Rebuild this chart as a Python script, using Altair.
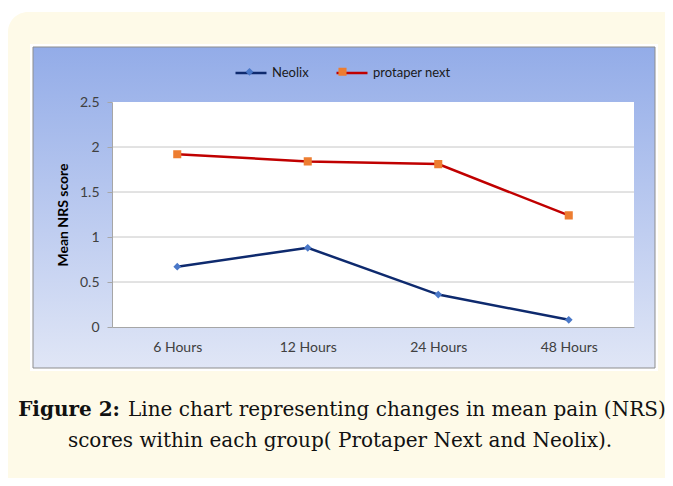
import altair as alt
import pandas as pd

times = ["6 Hours", "12 Hours", "24 Hours", "48 Hours"]
series_names = ["Neolix", "protaper next"]
neolix = [0.67, 0.88, 0.36, 0.08]
protaper = [1.92, 1.84, 1.81, 1.24]
y_ticks = [0, 0.5, 1, 1.5, 2, 2.5]
grid_vals = [0.5, 1, 1.5, 2]
caption_bold = "Figure 2:"
caption_rest1 = "Line chart representing changes in mean pain (NRS)"
caption_line2 = "scores within each group( Protaper Next and Neolix)."

line_colors = ["#0e2a6e", "#c00000"]
marker_colors = ["#4a78c8", "#ed7d31"]

rows = []
for t, v in zip(times, neolix):
    rows.append({"time": t, "value": v, "series": series_names[0]})
for t, v in zip(times, protaper):
    rows.append({"time": t, "value": v, "series": series_names[1]})
df = pd.DataFrame(rows)

W, H = 522, 225
LX, LY = 122, -46

one = alt.Data(values=[{}])

cream = alt.Chart(one).mark_rect(color="#fefae8", cornerRadius=20).encode(
    x=alt.value(-104), x2=alt.value(600), y=alt.value(-90), y2=alt.value(420))

frame_white = alt.Chart(one).mark_rect(color="white").encode(
    x=alt.value(-82), x2=alt.value(546), y=alt.value(-58), y2=alt.value(269))

grad = alt.Chart(one).mark_rect(
    color=alt.Gradient(gradient="linear", x1=0, y1=0, x2=0, y2=1,
                       stops=[alt.GradientStop(offset=0, color="#93ace8"),
                              alt.GradientStop(offset=1, color="#e0e6f6")]),
    stroke="#8d8d8d", strokeWidth=1).encode(
    x=alt.value(-79), x2=alt.value(543), y=alt.value(-55), y2=alt.value(266))

plot_bg = alt.Chart(one).mark_rect(color="white").encode(
    x=alt.value(0), x2=alt.value(W), y=alt.value(0), y2=alt.value(H))

ydom = alt.Scale(domain=[0, 2.5], nice=False)


def yaxis():
    return alt.Axis(title="Mean NRS score", values=y_ticks, grid=False,
                    format="~g",
                    domainColor="#a6a6a6", tickColor="#a6a6a6", tickSize=5,
                    labelFont="Lato", labelFontSize=14, labelColor="#404040",
                    labelPadding=8, titleFont="Lato", titleFontSize=14,
                    titleFontWeight="bold", titleColor="#000000",
                    titlePadding=9, zindex=1)


xaxis = alt.Axis(title=None, labelAngle=0, ticks=False, grid=False,
                 domainColor="#a6a6a6", labelFont="Lato", labelFontSize=14,
                 labelColor="#404040", labelPadding=13, zindex=1)

grid = alt.Chart(pd.DataFrame({"value": grid_vals})).mark_rule(
    color="#c6c6c6", strokeWidth=1).encode(
    y=alt.Y("value:Q", scale=ydom, axis=yaxis()))

lines = alt.Chart(df).mark_line(strokeWidth=2.5).encode(
    x=alt.X("time:N", sort=times, axis=xaxis,
            scale=alt.Scale(paddingInner=0, paddingOuter=0.5)),
    y=alt.Y("value:Q", scale=ydom, axis=yaxis()),
    stroke=alt.Stroke("series:N",
                      scale=alt.Scale(domain=series_names, range=line_colors),
                      legend=alt.Legend(orient="none", legendX=LX, legendY=LY,
                                        direction="horizontal", title=None,
                                        symbolType="M-1,0H1", symbolSize=961,
                                        symbolStrokeWidth=2.5, padding=0,
                                        labelFont="Lato", labelFontSize=13,
                                        labelColor="#1a1a1a", labelOffset=4,
                                        columnPadding=22)),
)

diamond = "M-1,0H1M0,-0.25L0.25,0L0,0.25L-0.25,0Z"
square = "M-1,0H1M-0.26,-0.26H0.26V0.26H-0.26Z"


def marker_legend():
    return alt.Legend(orient="none", legendX=LX, legendY=LY,
                      direction="horizontal", title=None,
                      symbolSize=961, padding=0, symbolStrokeWidth=0,
                      labelFont="Lato", labelFontSize=13,
                      labelExpr="''", labelOffset=4, columnPadding=58)


points = alt.Chart(df).mark_point(filled=True, size=961, opacity=1).encode(
    x=alt.X("time:N", sort=times),
    y=alt.Y("value:Q", scale=ydom),
    fill=alt.Fill("series:N", scale=alt.Scale(range=marker_colors),
                  legend=marker_legend()),
    shape=alt.Shape("series:N", scale=alt.Scale(range=[diamond, square]),
                    legend=marker_legend()),
)

cap_font = "DejaVu Serif"
cap_size = 20
cap1a = alt.Chart(one).mark_text(text=caption_bold, font=cap_font,
                                 fontSize=cap_size, fontWeight="bold",
                                 align="right", baseline="middle",
                                 color="#111111").encode(
    x=alt.value(8), y=alt.value(308))
cap1b = alt.Chart(one).mark_text(text=caption_rest1, font=cap_font,
                                 fontSize=cap_size, align="left",
                                 baseline="middle", color="#111111").encode(
    x=alt.value(16), y=alt.value(308))
cap2 = alt.Chart(one).mark_text(text=caption_line2, font=cap_font,
                                fontSize=cap_size, align="center",
                                baseline="middle", color="#111111").encode(
    x=alt.value(228), y=alt.value(339))

chart = alt.layer(cream, frame_white, grad, plot_bg, grid, lines, points,
                  cap1a, cap1b, cap2).properties(
    width=W, height=H,
    autosize=alt.AutoSizeParams(type="none"),
    padding={"left": 104, "top": 94, "right": 31, "bottom": 151},
    background="white",
).configure_view(stroke=None)

chart.save("out.html", embed_options={"renderer": "svg", "actions": False})
